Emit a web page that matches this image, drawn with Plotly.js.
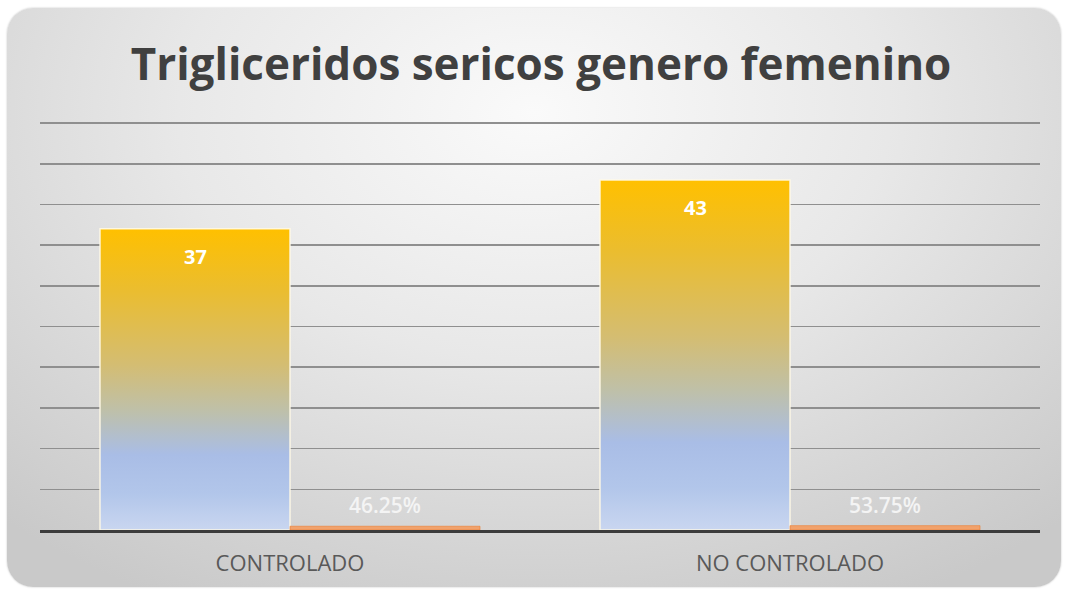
<!DOCTYPE html>
<html>
<head>
<meta charset="utf-8">
<script src="https://cdn.plot.ly/plotly-3.0.1.min.js"></script>
<style>
  html, body { margin: 0; padding: 0; background: #ffffff; }
  #bg {
    position: absolute; left: 7px; top: 8px; width: 1054px; height: 579px;
    border-radius: 26px;
    background: radial-gradient(ellipse 75% 95% at 50% 18%, #fafafa 0%, #e8e8e8 45%, #d4d4d4 80%, #c9c9c9 100%);
    box-shadow: 0 0 2px rgba(0,0,0,0.25);
  }
  #chart { position: absolute; left: 0; top: 0; width: 1065px; height: 590px; }
</style>
</head>
<body>
<div id="bg"></div>
<div id="chart"></div>
<script>
const categories = ["CONTROLADO", "NO CONTROLADO"];
const counts = [37, 43];
const percentValues = [0.4625, 0.5375];
const percentLabels = ["46.25%", "53.75%"];
const chartTitle = "Trigliceridos sericos genero femenino";

const FONT = "'Open Sans', Lato, sans-serif";
const BAR_OFFSET_PX = 95;

const traces = [
  {
    type: "bar",
    x: categories,
    y: counts,
    marker: { color: "#f0c020", line: { color: "rgba(255,250,230,0.9)", width: 1.5 } },
    hoverinfo: "none"
  },
  {
    type: "bar",
    x: categories,
    y: percentValues,
    marker: { color: "#f1a26c", line: { color: "rgba(237,125,49,0.6)", width: 1 } },
    hoverinfo: "none"
  }
];

const annotations = [];
categories.forEach(function (c, i) {
  annotations.push({
    x: c, y: counts[i], xref: "x", yref: "y",
    text: "<b>" + counts[i] + "</b>", showarrow: false,
    xshift: -BAR_OFFSET_PX, yshift: -12, yanchor: "top",
    font: { family: FONT, size: 20, color: "#ffffff" }
  });
  annotations.push({
    x: c, y: percentValues[i], xref: "x", yref: "y",
    text: percentLabels[i], showarrow: false,
    xshift: BAR_OFFSET_PX, yshift: 5, yanchor: "bottom",
    font: { family: FONT, size: 21, color: "#f4f4f4", weight: 600 }
  });
});

const layout = {
  width: 1065,
  height: 590,
  paper_bgcolor: "rgba(0,0,0,0)",
  plot_bgcolor: "rgba(0,0,0,0)",
  margin: { l: 40, r: 25, t: 119, b: 60 },
  showlegend: false,
  barmode: "group",
  bargap: 0.24,
  bargroupgap: 0,
  title: {
    text: "<b>" + chartTitle + "</b>",
    x: 0.508, xanchor: "center",
    y: 0.89, yanchor: "middle",
    font: { family: FONT, size: 44, color: "#404040" }
  },
  annotations: annotations,
  xaxis: {
    type: "category",
    showline: true, linecolor: "#3c3c3c", linewidth: 3,
    ticks: "outside", ticklen: 12, tickcolor: "rgba(0,0,0,0)",
    tickfont: { family: FONT, size: 22, color: "#595959" },
    showgrid: false, zeroline: false, fixedrange: true
  },
  yaxis: {
    range: [0, 50.5], tick0: 0, dtick: 5,
    showticklabels: false, ticks: "",
    showgrid: true, gridcolor: "#8f8f8f", gridwidth: 1.5,
    zeroline: false, showline: false, fixedrange: true
  }
};

Plotly.newPlot("chart", traces, layout, { displayModeBar: false, staticPlot: true }).then(function (gd) {
  const svgNS = "http://www.w3.org/2000/svg";
  const defs = gd.querySelector(".main-svg defs");
  const grad = document.createElementNS(svgNS, "linearGradient");
  grad.setAttribute("id", "barGrad");
  grad.setAttribute("x1", "0"); grad.setAttribute("y1", "0");
  grad.setAttribute("x2", "0"); grad.setAttribute("y2", "1");
  const stops = [
    [0, "#ffc000"], [0.2, "#ebbd2e"], [0.45, "#d4bd72"], [0.6, "#bfc0a8"],
    [0.75, "#a9bde6"], [0.88, "#b2c6ea"], [1, "#c9d6f0"]
  ];
  stops.forEach(function (s) {
    const st = document.createElementNS(svgNS, "stop");
    st.setAttribute("offset", s[0]);
    st.setAttribute("stop-color", s[1]);
    grad.appendChild(st);
  });
  defs.appendChild(grad);
  const firstTrace = gd.querySelectorAll(".barlayer .trace")[0];
  firstTrace.querySelectorAll(".point path").forEach(function (p) {
    p.style.fill = "url(#barGrad)";
  });
});
</script>
</body>
</html>
